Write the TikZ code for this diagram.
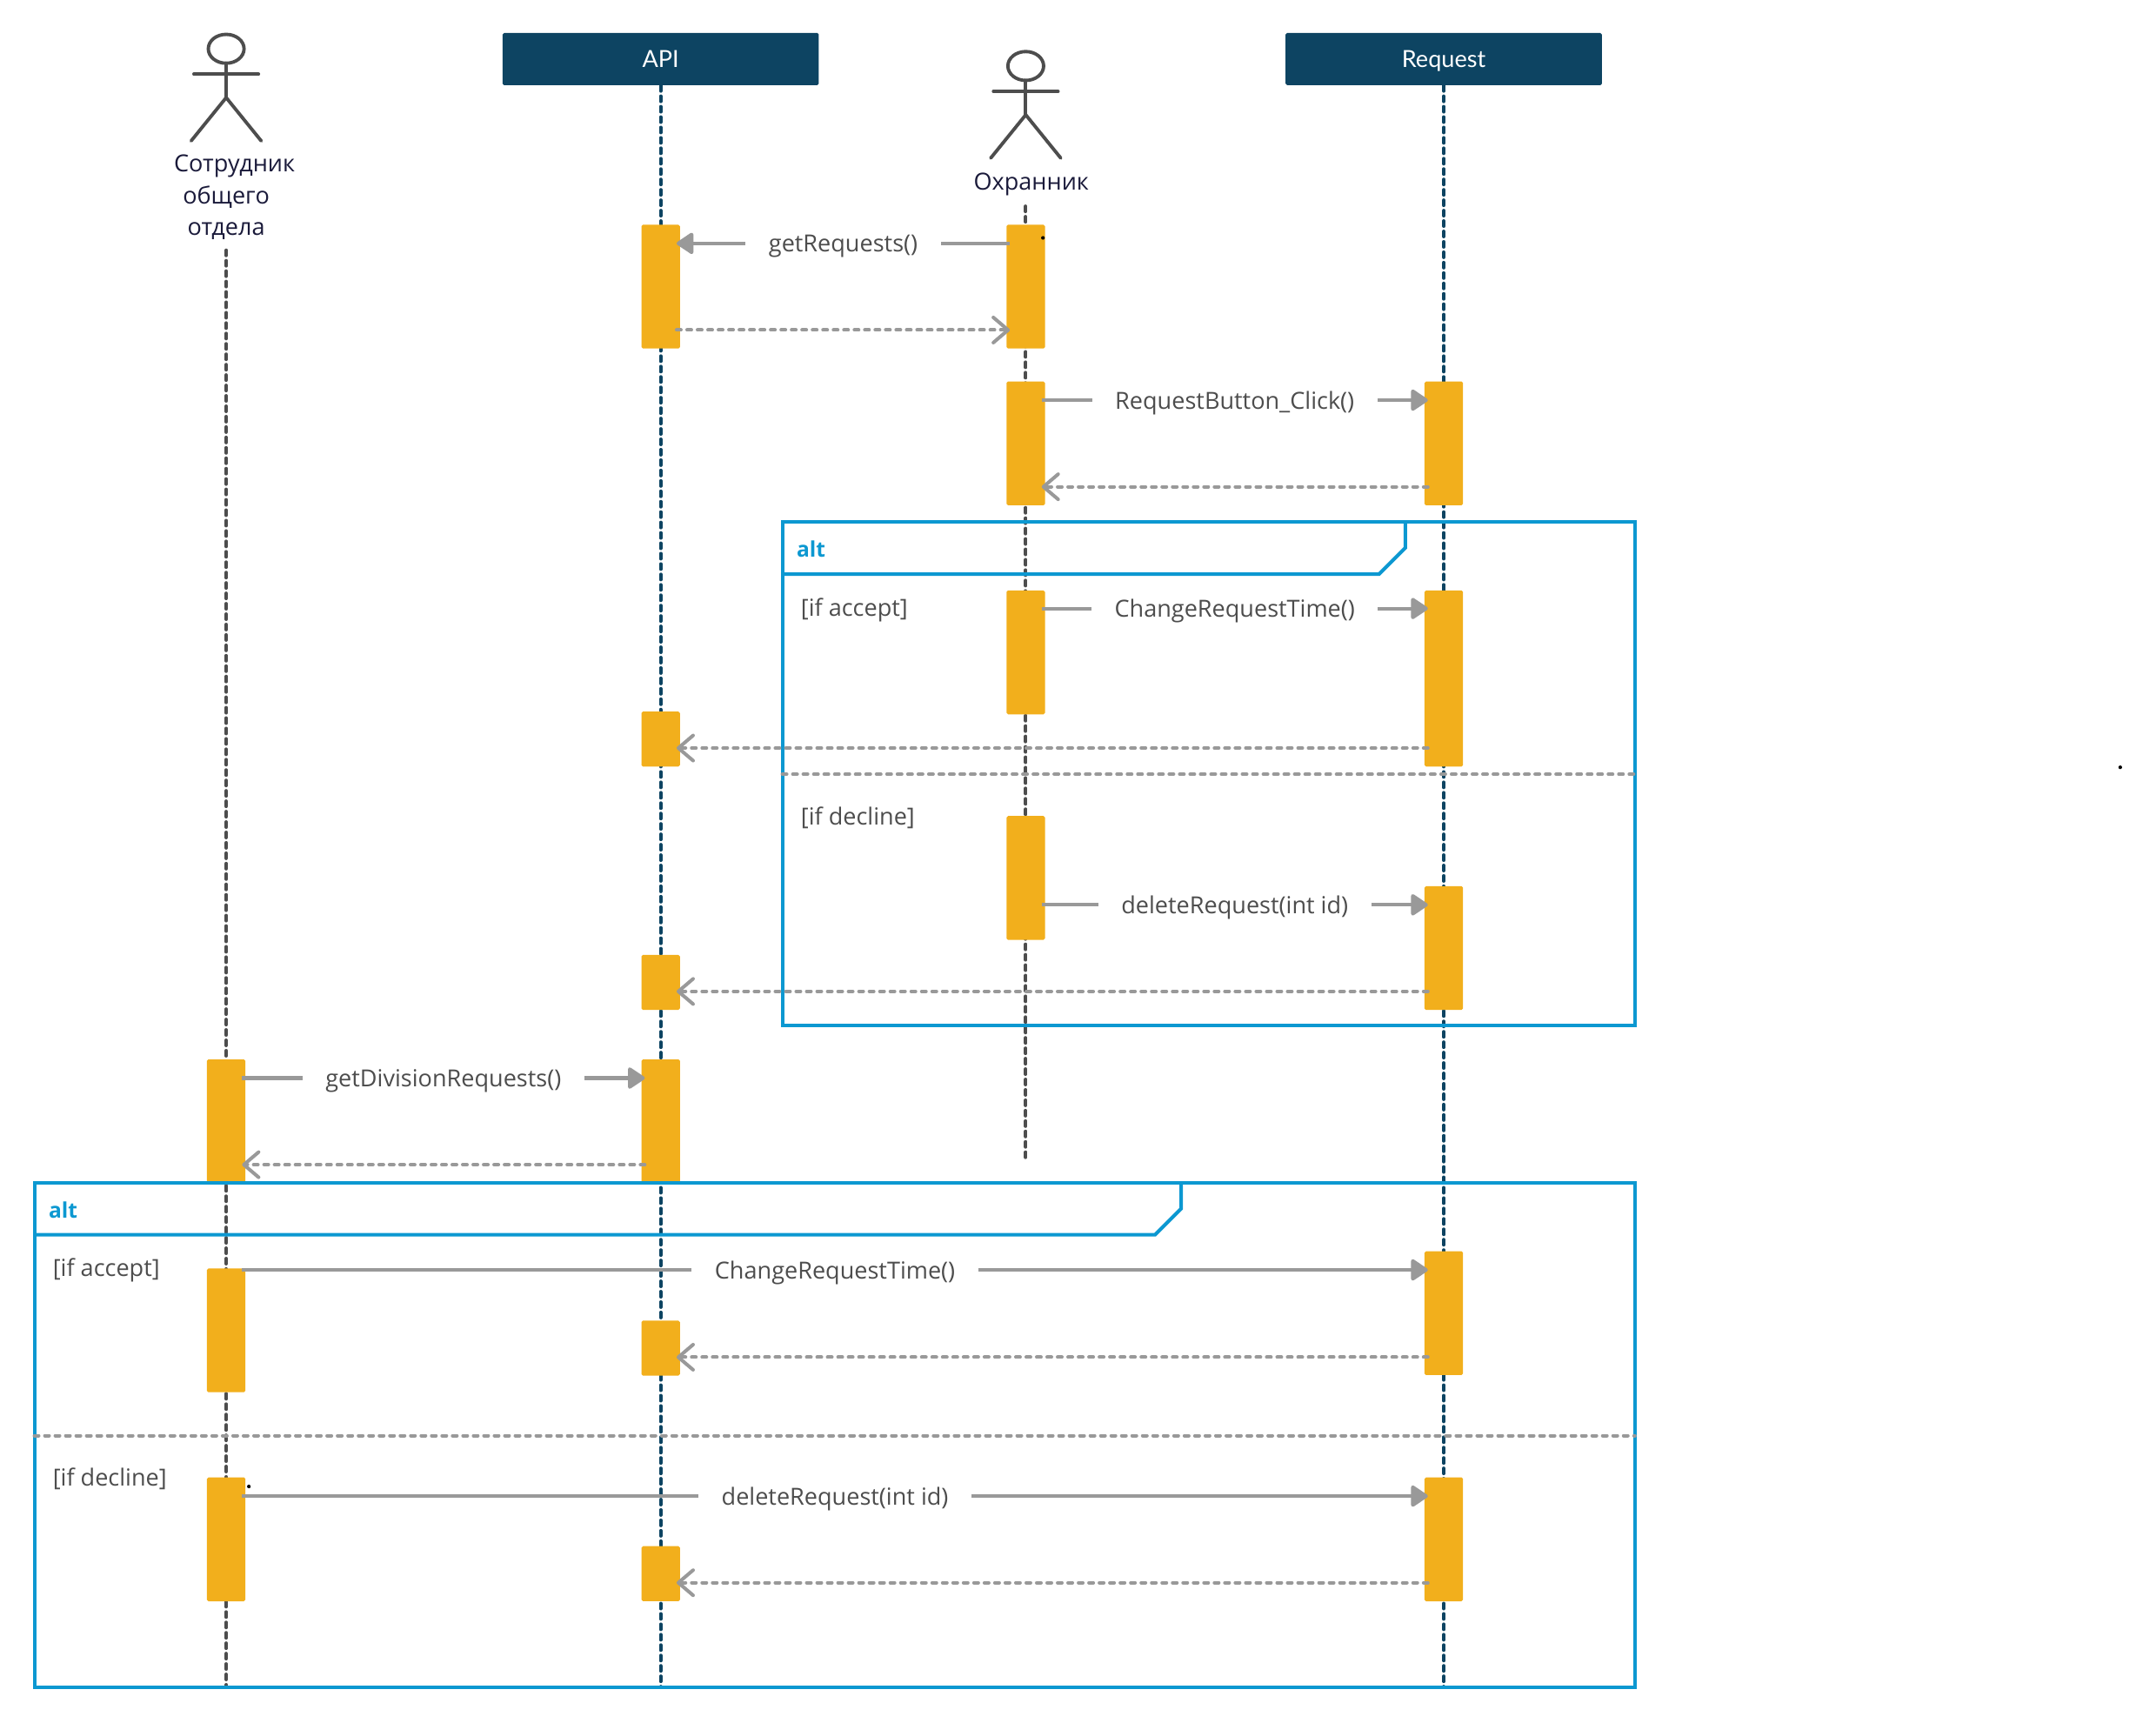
\documentclass[tikz,border=0pt]{standalone}
\usepackage{fontspec}
\setmainfont{Open Sans}
\newfontfamily\headfont{Lato}
\usetikzlibrary{arrows.meta}
\definecolor{headblue}{HTML}{0D4462}
\definecolor{barorange}{HTML}{F2AF1C}
\definecolor{framecyan}{HTML}{0C98D1}
\definecolor{msggray}{HTML}{999999}
\definecolor{inkgray}{HTML}{4D4D4D}
\definecolor{inknavy}{HTML}{1A1A3A}
\tikzset{
pics/actor/.style={code={
    \draw[inkgray,line width=1.1pt,line cap=round] (0,0) ellipse (13 and 10.5);
    \draw[inkgray,line width=1.1pt,line cap=round] (0,10.5) -- (0,35.5);
    \draw[inkgray,line width=1.1pt,line cap=round] (-23.5,18.5) -- (23.5,18.5);
    \draw[inkgray,line width=1.1pt,line cap=round] (-25.5,67) -- (0,35.5) -- (25.5,67);
}}
}
\begin{document}
\begin{tikzpicture}[
x=0.01581cm,y=-0.01581cm,
head/.style={fill=headblue,text=white,rounded corners=0.5pt,minimum width=3.636cm,minimum height=0.6cm,inner sep=0pt,text height=5.5pt,text depth=0pt,font=\headfont\fontsize{7.7pt}{9pt}\selectfont},
bar/.style={fill=barorange,rounded corners=0.5pt,minimum width=0.443cm,minimum height=#1,inner sep=0pt,anchor=north},
who/.style={text=inknavy,align=center,font=\fontsize{7.7pt}{10.3pt}\selectfont,inner sep=0pt},
lifedark/.style={draw=inkgray,line width=1.14pt,line cap=round,dash pattern=on 1.7pt off 1.7pt},
lifenavy/.style={draw=headblue,line width=1.14pt,line cap=round,dash pattern=on 1.7pt off 1.7pt},
frame/.style={draw=framecyan,line width=1.14pt},
divider/.style={draw=msggray,line width=1.14pt,line cap=round,dash pattern=on 1.42pt off 2pt},
call/.style={draw=msggray,line width=1.14pt,-{Triangle[length=0.21cm,width=0.27cm,round]},fill=msggray,shorten >=-1.3pt,shorten <=-1.3pt},
reply/.style={draw=msggray,line width=1.14pt,line cap=round,dash pattern=on 1.42pt off 2pt,-{Straight Barb[length=0.17cm,width=0.29cm,round,line width=1.14pt]},shorten >=-1.3pt,shorten <=-1.3pt},
msgtext/.style={fill=white,text=inkgray,inner xsep=0.265cm,inner ysep=1pt,yshift=-0.9pt,font=\fontsize{7.7pt}{9pt}\selectfont},
guard/.style={text=inkgray,anchor=west,inner sep=0pt,font=\fontsize{7.7pt}{9pt}\selectfont},
alttag/.style={text=framecyan,anchor=west,inner sep=0pt,font=\bfseries\fontsize{7pt}{9pt}\selectfont},
speck/.style={circle,fill=black,minimum size=1.2pt,inner sep=0pt}
]
\useasboundingbox (0,0) rectangle (1568,1253);

\node[head] (api) at (480.5,43) {API};
\node[head] (request) at (1050,43) {Request};
\pic at (164.5,35.5) {actor};
\pic at (746,48) {actor};
\node[who] (clerk) at (164.5,143.5) {\hspace*{0.19cm}Сотрудник\\общего\\отдела};
\node[who] (guardman) at (750,134) {Охранник};

\coordinate (clerkend) at (164.5,1227);
\coordinate (apiend) at (480.5,1227);
\coordinate (guardstart) at (746,150);
\coordinate (guardend) at (746,845);
\coordinate (requestend) at (1050,1227);
\draw[lifedark] (164.5,182) -- (clerkend);
\draw[lifenavy] (api.south) -- (apiend);
\draw[lifedark] (guardstart) -- (guardend);
\draw[lifenavy] (request.south) -- (requestend);

\node[bar=1.423cm] (a1) at (480.5,163) {};
\node[bar=0.632cm] (a2) at (480.5,517) {};
\node[bar=0.632cm] (a3) at (480.5,694) {};
\node[bar=1.423cm] (a4) at (480.5,770) {};
\node[bar=0.632cm] (a5) at (480.5,960) {};
\node[bar=0.632cm] (a6) at (480.5,1124) {};
\node[bar=1.423cm] (g1) at (746,163) {};
\node[bar=1.423cm] (g2) at (746,277) {};
\node[bar=1.423cm] (g3) at (746,429) {};
\node[bar=1.423cm] (g4) at (746,593) {};
\node[bar=1.423cm] (r1) at (1050,277) {};
\node[bar=2.024cm] (r2) at (1050,429) {};
\node[bar=1.423cm] (r3) at (1050,644) {};
\node[bar=1.423cm] (r4) at (1050,909.5) {};
\node[bar=1.423cm] (r5) at (1050,1074) {};
\node[bar=1.423cm] (c1) at (164.5,770) {};
\node[bar=1.423cm] (c2) at (164.5,922) {};
\node[bar=1.423cm] (c3) at (164.5,1074) {};

\draw[frame] (569,379.5) rectangle (1189,746);
\draw[frame] (569,417.5) -- (1003,417.5) -- (1022,398.5) -- (1022,379.5);
\draw[frame] (25,860) rectangle (1189,1227);
\draw[frame] (25,898) -- (840,898) -- (859,879) -- (859,860);
\draw[divider] (569,563) -- (1189,563);
\draw[divider] (25,1044) -- (1189,1044);
\node[alttag] (alt1) at (579,399.5) {alt};
\node[alttag] (alt2) at (35,880) {alt};
\node[guard] (accept1) at (582,443.5) {[if accept]};
\node[guard] (decline1) at (582,594.5) {[if decline]};
\node[guard] (accept2) at (38,923.5) {[if accept]};
\node[guard] (decline2) at (38,1075.5) {[if decline]};

\draw[call] (g1.west|-0,177) -- node[msgtext] {getRequests()} (a1.east|-0,177);
\draw[reply] (a1.east|-0,240) -- (g1.west|-0,240);
\draw[call] (g2.east|-0,291) -- node[msgtext] {RequestButton\_Click()} (r1.west|-0,291);
\draw[reply] (r1.west|-0,354) -- (g2.east|-0,354);
\draw[call] (g3.east|-0,442.5) -- node[msgtext] {ChangeRequestTime()} (r2.west|-0,442.5);
\draw[reply] (r2.west|-0,544) -- (a2.east|-0,544);
\draw[call] (g4.east|-0,658) -- node[msgtext] {deleteRequest(int id)} (r3.west|-0,658);
\draw[reply] (r3.west|-0,721) -- (a3.east|-0,721);
\draw[call] (c1.east|-0,784) -- node[msgtext] {getDivisionRequests()} (a4.west|-0,784);
\draw[reply] (a4.west|-0,847) -- (c1.east|-0,847);
\draw[call] (c2.east|-0,923.5) -- node[msgtext] {ChangeRequestTime()} (r4.west|-0,923.5);
\draw[reply] (r4.west|-0,987) -- (a5.east|-0,987);
\draw[call] (c3.east|-0,1088) -- node[msgtext] {deleteRequest(int id)} (r5.west|-0,1088);
\draw[reply] (r5.west|-0,1151) -- (a6.east|-0,1151);

\node[speck] (s1) at (758.5,173) {};
\node[speck] (s2) at (181,1081) {};
\node[speck] (s3) at (1542,558) {};
\end{tikzpicture}
\end{document}
